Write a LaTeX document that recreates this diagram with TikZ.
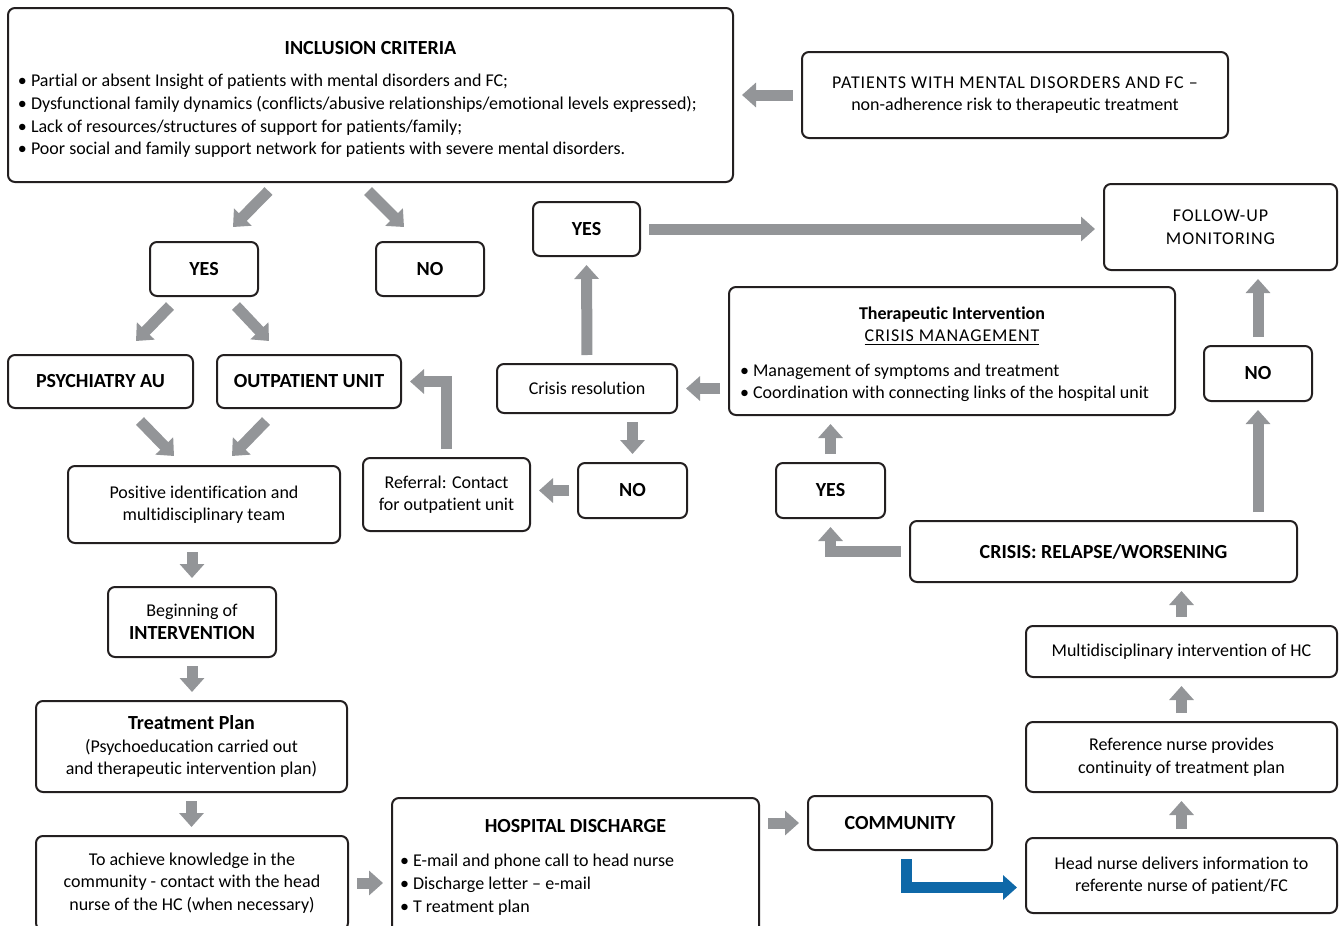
\documentclass[tikz,border=0pt]{standalone}
\usepackage{fontspec}
\setmainfont{Carlito}[Ligatures={TeX,NoCommon}]
\usetikzlibrary{positioning}
\usetikzlibrary{arrows.meta}
\definecolor{arrgray}{RGB}{147,149,152}
\definecolor{arrblue}{RGB}{14,104,168}
\definecolor{edge}{RGB}{35,31,32}
\newcommand\hd[1]{{\fontsize{10}{11.3}\selectfont\bfseries #1}}
\newcommand\wide{\addfontfeature{LetterSpace=5}}

\begin{document}
\begin{tikzpicture}[x=0.5pt,y=-0.5pt,
	box/.style={draw=edge,line width=1pt,rounded corners=3.5pt,align=center,inner sep=0pt,font=\fontsize{9}{11.3}\selectfont},
	bbox/.style={box,font=\fontsize{10}{11.3}\selectfont\bfseries},
	wh/.style 2 args={minimum width=#1*0.5pt,minimum height=#2*0.5pt},
	garrow/.style={draw=arrgray,line width=5.5pt,-{Triangle[width=12pt,length=7pt]},shorten <=4pt,shorten >=4pt},
	diag/.style={garrow,shorten <=0pt,shorten >=0pt},
	barrow/.style={garrow,draw=arrblue}]
	\useasboundingbox (0,0) rectangle (1340,926);
	\clip (0,0) rectangle (1340,926);
	% upper part
	\node[box,wh={725}{174},text width=352.5pt,align=flush left] (incl) at (370.5,95)
		{\rule{0pt}{11pt}\makebox[\hsize]{\hd{INCLUSION CRITERIA}}\\[5pt]
		\textbullet{} Partial or absent Insight of patients with mental disorders and FC;\\
		\textbullet{} Dysfunctional family dynamics (conflicts/abusive relationships/emotional levels expressed);\\
		\textbullet{} Lack of resources/structures of support for patients/family;\\
		\textbullet{} Poor social and family support network for patients with severe mental disorders.};
	\node[box,wh={426}{86}] (patients) at (1015,95)
		{{\wide PATIENTS WITH MENTAL DISORDERS AND FC --}\\non-adherence risk to therapeutic treatment};
	\node[bbox,wh={108}{54}] (yesA) at (204,269) {YES};
	\node[bbox,wh={108}{54}] (noA) at (430,269) {NO};
	\node[bbox,wh={185}{53}] (psych) at (100.5,381.5) {PSYCHIATRY AU};
	\node[bbox,wh={184}{53}] (outpat) at (309,381.5) {OUTPATIENT UNIT};
	\node[box,wh={272}{77}] (posid) at (204,504.5) {Positive identification and\\multidisciplinary team};
	\node[box,wh={167}{73}] (referral) at (446.5,494.5) {Referral: Contact\\for outpatient unit};
	\node[box,wh={180}{49}] (cres) at (587,388.5) {Crisis resolution};
	\node[bbox,wh={107}{54}] (yesB) at (586.5,229) {YES};
	\node[box,wh={233}{86},font=\fontsize{9}{11.3}\selectfont\wide] (follow) at (1220.5,227) {FOLLOW-UP\\MONITORING};
	\node[box,wh={446}{128},text width=212pt,align=flush left] (therap) at (952,351)
		{\rule{0pt}{9.5pt}\makebox[\hsize]{\textbf{Therapeutic Intervention}}\\
		\makebox[\hsize]{\wide\underline{CRISIS MANAGEMENT}}\\[6pt]
		\textbullet{} Management of symptoms and treatment\\
		\textbullet{} Coordination with connecting links of the hospital unit};
	\node[bbox,wh={109}{55}] (noB) at (632.5,490.5) {NO};
	\node[bbox,wh={109}{55}] (yesC) at (830.5,490.5) {YES};
	\node[bbox,wh={387}{61}] (crisis) at (1103.5,551.5) {CRISIS: RELAPSE/WORSENING};
	\node[bbox,wh={108}{55}] (noC) at (1258,373.5) {NO};
	% right column
	\node[box,wh={311}{51}] (multi) at (1181.5,651.5) {Multidisciplinary intervention of HC};
	\node[box,wh={311}{70}] (refnurse) at (1181.5,757) {Reference nurse provides\\continuity of treatment plan};
	\node[box,wh={311}{75}] (headnurse) at (1181.5,875.5) {Head nurse delivers information to\\referente nurse of patient/FC};
	% lower part
	\node[box,wh={168}{70}] (beginint) at (192,622) {Beginning of\\\hd{INTERVENTION}};
	\node[box,wh={311}{91}] (treatplan) at (191.5,746.5)
		{\hd{Treatment Plan}\\(Psychoeducation carried out\\and therapeutic intervention plan)};
	\node[box,wh={312}{94}] (knowledge) at (192,883)
		{To achieve knowledge in the\\community - contact with the head\\nurse of the HC (when necessary)};
	\node[box,wh={367}{138},text width=175.5pt,align=flush left] (discharge) at (575.5,867)
		{\makebox[\hsize]{\hd{HOSPITAL DISCHARGE}}\\[6pt]
		\textbullet{} E-mail and phone call to head nurse\\
		\textbullet{} Discharge letter -- e-mail\\
		\textbullet{} T reatment plan};
	\node[bbox,wh={184}{54}] (community) at (900,823) {COMMUNITY};
	% arrows
	\draw[garrow] (patients.west) -- (patients.west -| incl.east);
	\draw[diag] ([shift={(-102,8)}]incl.south) -- ([shift={(29,-14)}]yesA.north);
	\draw[diag] ([shift={(-2.5,8)}]incl.south) -- ([shift={(-26,-14)}]noA.north);
	\draw[diag] ([shift={(-34,9)}]yesA.south) -- ([shift={(35.5,-13)}]psych.north);
	\draw[diag] ([shift={(32,9)}]yesA.south) -- ([shift={(-40,-13)}]outpat.north);
	\draw[diag] ([shift={(39.5,12)}]psych.south) -- ([shift={(-30,-9)}]posid.north);
	\draw[diag] ([shift={(-43,12)}]outpat.south) -- ([shift={(28,-9)}]posid.north);
	\draw[garrow] (posid.south -| beginint) -- (beginint.north);
	\draw[garrow] (beginint.south) -- (beginint.south |- treatplan.north);
	\draw[garrow] (treatplan.south) -- (treatplan.south |- knowledge.north);
	\draw[garrow] (knowledge.east) -- (knowledge.east -| discharge.west);
	\draw[garrow] (community.west -| discharge.east) -- (community.west);
	\draw[barrow] ([shift={(6,0)}]community.south) |- ([shift={(0,12)}]headnurse.west);
	\draw[garrow] (headnurse.north) -- (refnurse.south);
	\draw[garrow] (refnurse.north) -- (multi.south);
	\draw[garrow] (multi.north) -- (multi.north |- crisis.south);
	\draw[garrow] (noC.south |- crisis.north) -- (noC.south);
	\draw[garrow] (noC.north) -- (noC.north |- follow.south);
	\draw[garrow] (crisis.west) -| (yesC.south);
	\draw[garrow] (yesC.north) -- (yesC.north |- therap.south);
	\draw[garrow] (therap.west |- cres.east) -- (cres.east);
	\draw[garrow] (noB.north |- cres.south) -- (noB.north);
	\draw[garrow] (noB.west) -- (noB.west -| referral.east);
	\draw[garrow] (referral.north) |- (outpat.east);
	\draw[garrow] (cres.north) -- (yesB.south);
	\draw[garrow] (yesB.east) -- (yesB.east -| follow.west);
\end{tikzpicture}
\end{document}
